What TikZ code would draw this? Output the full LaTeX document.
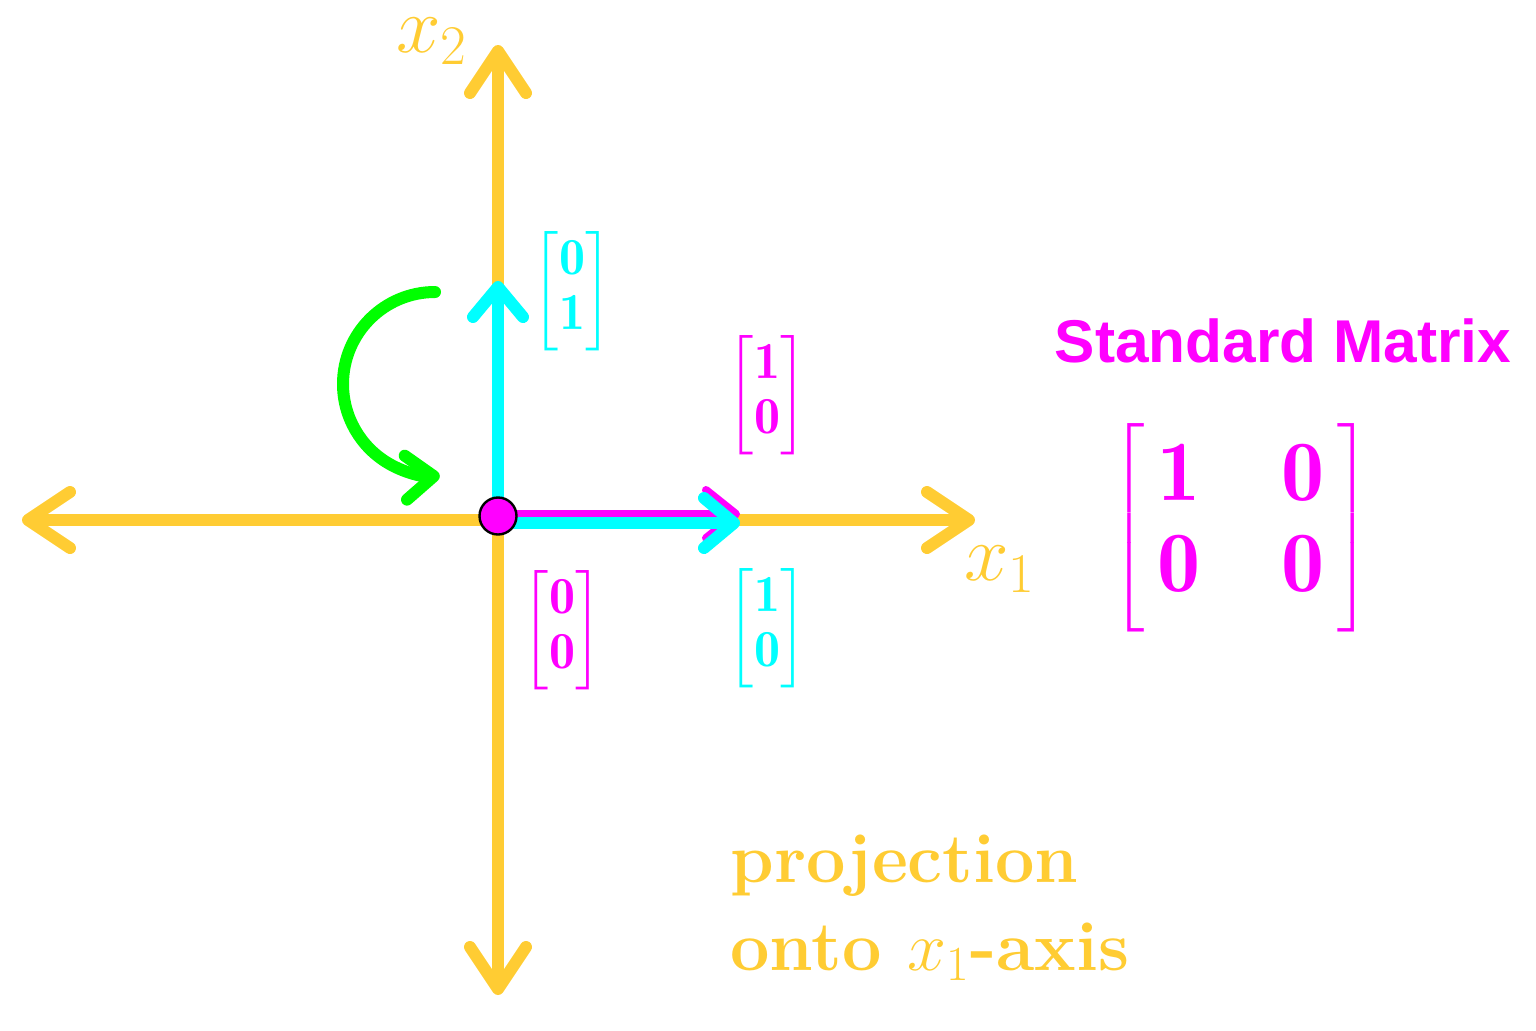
\RequirePackage{fix-cm}
\documentclass[tikz,border=0pt]{standalone}
\usepackage{amsmath}
\usepackage{fontspec}
\newfontfamily\headfont{Liberation Sans}
\usetikzlibrary{arrows.meta}
\definecolor{axisyellow}{RGB}{255,204,51}
\definecolor{vcyan}{RGB}{0,255,255}
\definecolor{vmag}{RGB}{255,0,255}
\definecolor{vgreen}{RGB}{0,255,0}
\newcommand{\smallvec}[2]{$\left[\begin{matrix}\mathbf{#1}\\ \mathbf{#2}\end{matrix}\rule[-22pt]{0pt}{57pt}\right]$}
\begin{document}
\begin{tikzpicture}[x=0.5pt,y=-0.5pt,
  axis/.style={draw=axisyellow, line width=6pt, -{Straight Barb[length=21pt,width=28pt,round]}},
  cyanvec/.style={draw=vcyan, line width=6pt, -{Straight Barb[length=15pt,width=25pt,round]}},
  magvec/.style={draw=vmag, line width=4pt, -{Straight Barb[length=15pt,width=24pt,round]}},
  turn/.style={draw=vgreen, line width=6pt, line cap=round, -{Straight Barb[length=14pt,width=22pt,round]}},
  lab/.style={inner sep=0pt, font=\fontsize{40}{46}\selectfont},
  vlab/.style={inner sep=0pt, font=\fontsize{26}{27.5}\selectfont},
  biglab/.style={inner sep=0pt, font=\fontsize{43}{45.5}\selectfont},
  txt/.style={inner sep=0pt, anchor=base west, text=axisyellow, font=\fontsize{35}{44}\selectfont\bfseries}
]
\useasboundingbox (0,0) rectangle (1536,1030);
% axes
\coordinate (O) at (498,520);
\coordinate (XR) at (975,520);
\coordinate (XL) at (22,520);
\coordinate (YT) at (498,45);
\coordinate (YB) at (498,995);
\draw[axis] (O) -- (XR);
\draw[axis] (O) -- (XL);
\draw[axis] (O) -- (YT);
\draw[axis] (O) -- (YB);
% vectors
\coordinate (Om) at (498,514);
\coordinate (Em) at (740,514);
\coordinate (Oc) at (498,523);
\coordinate (Ec) at (740,523);
\coordinate (Ov) at (498,516);
\coordinate (Ev) at (498,281);
\draw[magvec] (Om) -- (Em);
\draw[cyanvec] (Oc) -- (Ec);
\draw[cyanvec] (Ov) -- (Ev);
% rotation arrow
\coordinate (Ts) at (435,292);
\draw[turn] (Ts) arc[start angle=-90, end angle=-273, radius=92];
% origin dot
\node[circle, fill=vmag, draw=black, line width=1.2pt, minimum size=18.5pt, inner sep=0pt] (orig) at (498,516) {};
% labels
\node[lab, text=axisyellow] (x2) at (432,41) {$x_2$};
\node[lab, text=axisyellow] (x1) at (1000,569) {$x_1$};
\node[vlab, text=vcyan] (e2) at (572,291) {\smallvec{0}{1}};
\node[vlab, text=vmag] (te1) at (767,395) {\smallvec{1}{0}};
\node[vlab, text=vcyan] (e1) at (767,628) {\smallvec{1}{0}};
\node[vlab, text=vmag] (te2) at (562,630) {\smallvec{0}{0}};
\node[inner sep=0pt, text=vmag, font=\headfont\bfseries\fontsize{30.2}{36}\selectfont] (title) at (1283,341) {Standard Matrix};
\node[biglab, text=vmag] (mat) at (1241,528) {\delimitershortfall=0pt\delimiterfactor=1000\setlength{\arraycolsep}{20.5pt}$\left[\hspace{6pt}\begin{matrix}\mathbf{1} & \mathbf{0}\\ \mathbf{0} & \mathbf{0}\end{matrix}\hspace{6pt}\rule[-39.25pt]{0pt}{97pt}\right]$};
\node[txt] (cap1) at (730,882) {projection};
\node[txt] (cap2) at (730,970) {onto $x_1$-axis};
\end{tikzpicture}
\end{document}
